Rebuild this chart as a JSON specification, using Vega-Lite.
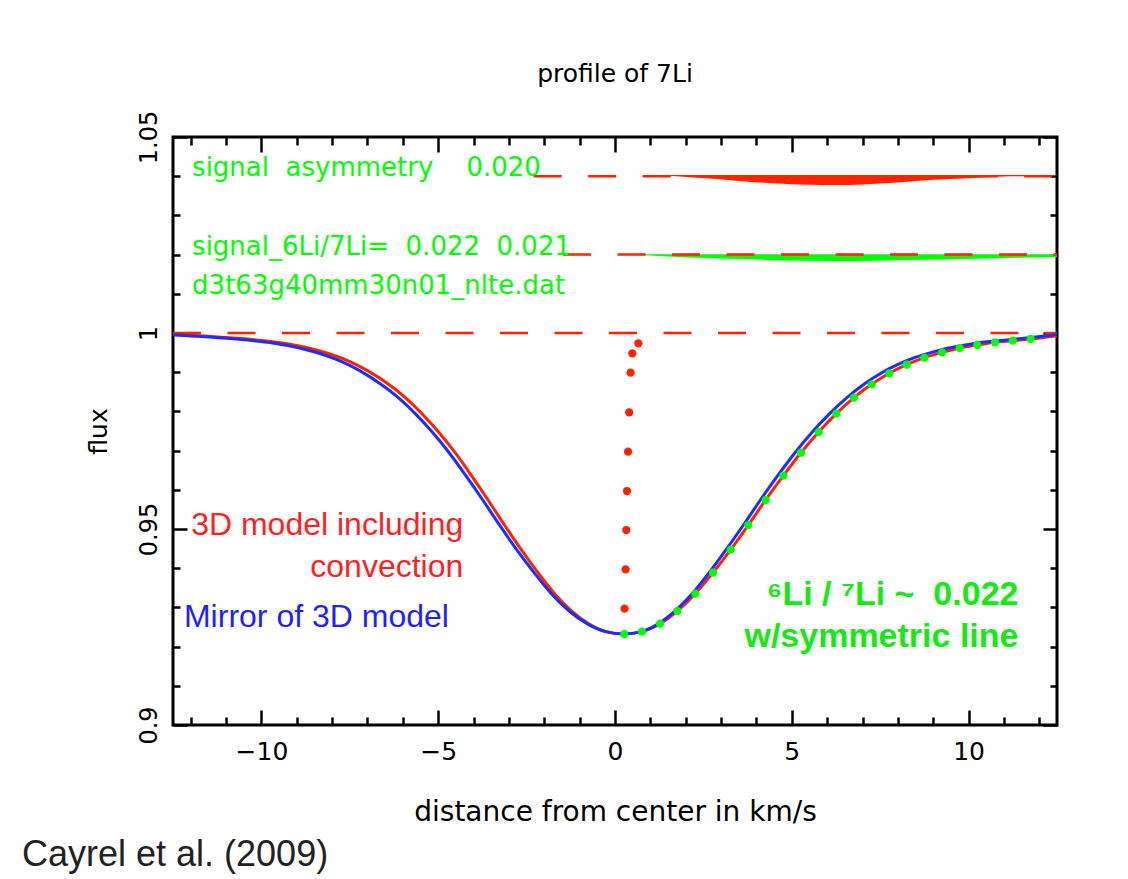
{
  "$schema": "https://vega.github.io/schema/vega-lite/v6.json",
  "width": 884,
  "height": 588,
  "autosize": {"type": "none"},
  "padding": {"left": 173, "top": 137, "right": 71, "bottom": 154},
  "background": "white",
  "config": {
    "view": {"stroke": "black", "strokeWidth": 3},
    "axis": {"grid": false, "domain": false, "tickColor": "black", "tickWidth": 2.5, "labelColor": "black", "titleColor": "black"}
  },
  "title": {"text": "profile of 7Li", "font": "DejaVu Sans", "fontSize": 25, "fontWeight": "normal", "color": "black", "anchor": "middle", "baseline": "alphabetic", "offset": 3},
  "resolve": {"axis": {"x": "independent", "y": "independent"}},
  "datasets": {
    "asymRed": [
      {"x": 1.3, "hi": 1.0403, "lo": 1.0403},
      {"x": 2.0, "hi": 1.0403, "lo": 1.0398},
      {"x": 2.6, "hi": 1.0403, "lo": 1.03946},
      {"x": 3.5, "hi": 1.0403, "lo": 1.0388},
      {"x": 4.5, "hi": 1.0403, "lo": 1.0382},
      {"x": 5.5, "hi": 1.0403, "lo": 1.0378},
      {"x": 6.2, "hi": 1.0403, "lo": 1.03775},
      {"x": 7.0, "hi": 1.0403, "lo": 1.0379},
      {"x": 8.0, "hi": 1.0403, "lo": 1.0384},
      {"x": 9.0, "hi": 1.0403, "lo": 1.0391},
      {"x": 10.0, "hi": 1.0403, "lo": 1.0395},
      {"x": 11.0, "hi": 1.0403, "lo": 1.0399},
      {"x": 12.0, "hi": 1.0403, "lo": 1.04005},
      {"x": 12.5, "hi": 1.0403, "lo": 1.0402}
    ],
    "asymGreen": [
      {"x": 0.0, "hi": 1.0201, "lo": 1.0201},
      {"x": 1.0, "hi": 1.0201, "lo": 1.0198},
      {"x": 1.65, "hi": 1.0201, "lo": 1.01946},
      {"x": 3.54, "hi": 1.0201, "lo": 1.01888},
      {"x": 5.42, "hi": 1.0201, "lo": 1.01844},
      {"x": 6.84, "hi": 1.0201, "lo": 1.01837},
      {"x": 8.25, "hi": 1.0201, "lo": 1.01862},
      {"x": 10.13, "hi": 1.0201, "lo": 1.01895},
      {"x": 12.02, "hi": 1.0201, "lo": 1.01931},
      {"x": 12.5, "hi": 1.0201, "lo": 1.0194}
    ],
    "dashes": [
      {"x0": -12.5, "x1": 12.5, "level": 1.0},
      {"x0": -2.3, "x1": 12.5, "level": 1.04},
      {"x0": -1.47, "x1": 12.5, "level": 1.02}
    ],
    "model3d": [
      {"x": -12.5, "flux": 0.99962}, {"x": -12.0, "flux": 0.9994}, {"x": -11.5, "flux": 0.99915},
      {"x": -11.0, "flux": 0.99885}, {"x": -10.5, "flux": 0.99852}, {"x": -10.0, "flux": 0.9981},
      {"x": -9.5, "flux": 0.99755}, {"x": -9.0, "flux": 0.9968}, {"x": -8.5, "flux": 0.9958},
      {"x": -8.0, "flux": 0.99445}, {"x": -7.5, "flux": 0.9927}, {"x": -7.0, "flux": 0.9904},
      {"x": -6.403, "flux": 0.98691}, {"x": -5.929, "flux": 0.98351}, {"x": -5.459, "flux": 0.97942},
      {"x": -4.99, "flux": 0.97474}, {"x": -4.52, "flux": 0.96946}, {"x": -4.058, "flux": 0.9636},
      {"x": -3.59, "flux": 0.9574}, {"x": -3.126, "flux": 0.95102}, {"x": -2.652, "flux": 0.94473},
      {"x": -2.178, "flux": 0.93886}, {"x": -1.71, "flux": 0.9335}, {"x": -1.226, "flux": 0.92908},
      {"x": -0.743, "flux": 0.92585}, {"x": -0.244, "flux": 0.92381}, {"x": 0.26, "flux": 0.92321},
      {"x": 0.764, "flux": 0.92381}, {"x": 1.273, "flux": 0.92585}, {"x": 1.762, "flux": 0.92908},
      {"x": 2.272, "flux": 0.9335}, {"x": 2.772, "flux": 0.93886}, {"x": 3.272, "flux": 0.94473},
      {"x": 3.771, "flux": 0.95102}, {"x": 4.261, "flux": 0.9574}, {"x": 4.761, "flux": 0.9636},
      {"x": 5.26, "flux": 0.96946}, {"x": 5.76, "flux": 0.97474}, {"x": 6.259, "flux": 0.97942},
      {"x": 6.759, "flux": 0.98351}, {"x": 7.259, "flux": 0.98691}, {"x": 7.758, "flux": 0.98972},
      {"x": 8.249, "flux": 0.99191}, {"x": 8.748, "flux": 0.9937}, {"x": 9.248, "flux": 0.99507},
      {"x": 9.748, "flux": 0.99617}, {"x": 10.247, "flux": 0.99694}, {"x": 10.747, "flux": 0.99763},
      {"x": 11.247, "flux": 0.99804}, {"x": 11.756, "flux": 0.99847}, {"x": 12.5, "flux": 0.9993}
    ],
    "mirror": [
      {"x": -12.5, "flux": 0.99955}, {"x": -12.3, "flux": 0.9994}, {"x": -11.8, "flux": 0.99915},
      {"x": -11.3, "flux": 0.99885}, {"x": -10.8, "flux": 0.99852}, {"x": -10.28, "flux": 0.9981},
      {"x": -9.77, "flux": 0.99755}, {"x": -9.26, "flux": 0.9968}, {"x": -8.75, "flux": 0.9958},
      {"x": -8.24, "flux": 0.99445}, {"x": -7.73, "flux": 0.9927}, {"x": -7.22, "flux": 0.9904},
      {"x": -6.62, "flux": 0.98691}, {"x": -6.13, "flux": 0.98351}, {"x": -5.649, "flux": 0.97942},
      {"x": -5.17, "flux": 0.97474}, {"x": -4.69, "flux": 0.96946}, {"x": -4.218, "flux": 0.9636},
      {"x": -3.74, "flux": 0.9574}, {"x": -3.266, "flux": 0.95102}, {"x": -2.782, "flux": 0.94473},
      {"x": -2.288, "flux": 0.93886}, {"x": -1.8, "flux": 0.9335}, {"x": -1.296, "flux": 0.92908},
      {"x": -0.793, "flux": 0.92585}, {"x": -0.274, "flux": 0.92381}, {"x": 0.24, "flux": 0.92321},
      {"x": 0.734, "flux": 0.92381}, {"x": 1.223, "flux": 0.92585}, {"x": 1.692, "flux": 0.92908},
      {"x": 2.182, "flux": 0.9335}, {"x": 2.662, "flux": 0.93886}, {"x": 3.142, "flux": 0.94473},
      {"x": 3.631, "flux": 0.95102}, {"x": 4.111, "flux": 0.9574}, {"x": 4.601, "flux": 0.9636},
      {"x": 5.09, "flux": 0.96946}, {"x": 5.58, "flux": 0.97474}, {"x": 6.069, "flux": 0.97942},
      {"x": 6.559, "flux": 0.98351}, {"x": 7.039, "flux": 0.98691}, {"x": 7.518, "flux": 0.98972},
      {"x": 7.989, "flux": 0.99191}, {"x": 8.468, "flux": 0.9937}, {"x": 8.948, "flux": 0.99507},
      {"x": 9.428, "flux": 0.99617}, {"x": 9.907, "flux": 0.99694}, {"x": 10.387, "flux": 0.99763},
      {"x": 10.867, "flux": 0.99804}, {"x": 11.356, "flux": 0.99847}, {"x": 12.5, "flux": 0.99965}
    ],
    "symfit": [
      {"x": 0.263, "flux": 0.92321}, {"x": 0.764, "flux": 0.92381}, {"x": 1.273, "flux": 0.92585},
      {"x": 1.762, "flux": 0.92908}, {"x": 2.272, "flux": 0.9335}, {"x": 2.772, "flux": 0.93886},
      {"x": 3.272, "flux": 0.94473}, {"x": 3.771, "flux": 0.95102}, {"x": 4.261, "flux": 0.9574},
      {"x": 4.761, "flux": 0.9636}, {"x": 5.26, "flux": 0.96946}, {"x": 5.76, "flux": 0.97474},
      {"x": 6.259, "flux": 0.97942}, {"x": 6.759, "flux": 0.98351}, {"x": 7.259, "flux": 0.98691},
      {"x": 7.758, "flux": 0.98972}, {"x": 8.249, "flux": 0.99191}, {"x": 8.748, "flux": 0.9937},
      {"x": 9.248, "flux": 0.99507}, {"x": 9.748, "flux": 0.99617}, {"x": 10.247, "flux": 0.99694},
      {"x": 10.747, "flux": 0.99763}, {"x": 11.247, "flux": 0.99804}, {"x": 11.756, "flux": 0.99847}
    ],
    "bisector": [
      {"x": 0.27, "flux": 0.92967}, {"x": 0.30, "flux": 0.93972}, {"x": 0.32, "flux": 0.94974},
      {"x": 0.34, "flux": 0.95969}, {"x": 0.37, "flux": 0.96972}, {"x": 0.40, "flux": 0.97977},
      {"x": 0.44, "flux": 0.98987}, {"x": 0.49, "flux": 0.99482}, {"x": 0.66, "flux": 0.99737}
    ],
    "pgtext": [
      {"x": -11.96, "y": 1.04, "label": "signal\u00a0\u00a0asymmetry\u00a0\u00a0\u00a0\u00a00.020"},
      {"x": -11.96, "y": 1.02, "label": "signal_6Li/7Li=\u00a0\u00a00.022\u00a0\u00a00.021"},
      {"x": -11.96, "y": 1.01, "label": "d3t63g40mm30n01_nlte.dat"}
    ],
    "redtext": [
      {"x": -4.29, "y": 0.94847, "label": "3D model including"},
      {"x": -4.29, "y": 0.93783, "label": "convection"}
    ],
    "bluetext": [
      {"x": -12.19, "y": 0.92508, "label": "Mirror of 3D model"}
    ],
    "greentext": [
      {"x": 11.41, "y": 0.93061, "label": "\u2076Li / \u2077Li ~\u00a0\u00a00.022"},
      {"x": 11.41, "y": 0.91997, "label": "w/symmetric line"}
    ],
    "credit": [
      {"x": -16.77, "y": 0.86403, "label": "Cayrel et al. (2009)"}
    ]
  },
  "layer": [
    {
      "data": {"name": "asymRed"},
      "mark": {"type": "area", "color": "#ff2200", "interpolate": "monotone"},
      "encoding": {
        "x": {"field": "x", "type": "quantitative", "scale": {"domain": [-12.5, 12.5], "nice": false, "zero": false},
          "axis": {"orient": "bottom", "values": [-10, -5, 0, 5, 10], "format": "~r", "ticks": false, "tickSize": 0, "labelFont": "DejaVu Sans", "labelFontSize": 25, "labelPadding": 14, "title": "distance from center in km/s", "titleFont": "DejaVu Sans", "titleFontSize": 28, "titleFontWeight": "normal", "titlePadding": 34}},
        "y": {"field": "lo", "type": "quantitative", "scale": {"domain": [0.9, 1.05], "nice": false, "zero": false},
          "axis": {"orient": "left", "values": [0.9, 0.95, 1.0, 1.05], "format": "~r", "ticks": false, "tickSize": 0, "labelFont": "DejaVu Sans", "labelFontSize": 24, "labelAngle": 270, "labelAlign": "center", "labelBaseline": "alphabetic", "labelPadding": 17, "title": "flux", "titleFont": "DejaVu Sans", "titleFontSize": 25, "titleFontWeight": "normal", "titleBaseline": "alphabetic", "titlePadding": 31}},
        "y2": {"field": "hi"}
      }
    },
    {
      "data": {"name": "asymGreen"},
      "mark": {"type": "area", "color": "#00ff00", "interpolate": "monotone"},
      "encoding": {
        "x": {"field": "x", "type": "quantitative", "scale": {"domain": [-12.5, 12.5], "nice": false, "zero": false},
          "axis": {"orient": "bottom", "values": [-10, -5, 0, 5, 10], "tickSize": -15, "labels": false, "title": null}},
        "y": {"field": "lo", "type": "quantitative", "scale": {"domain": [0.9, 1.05], "nice": false, "zero": false},
          "axis": {"orient": "left", "values": [0.9, 0.95, 1.0, 1.05], "tickSize": -14, "labels": false, "title": null}},
        "y2": {"field": "hi"}
      }
    },
    {
      "data": {"name": "dashes"},
      "mark": {"type": "rule", "color": "#ff2200", "strokeWidth": 2.5, "strokeDash": [28, 26.5]},
      "encoding": {
        "x": {"field": "x0", "type": "quantitative", "scale": {"domain": [-12.5, 12.5], "nice": false, "zero": false},
          "axis": {"orient": "bottom", "values": [-12, -11, -9, -8, -7, -6, -4, -3, -2, -1, 1, 2, 3, 4, 6, 7, 8, 9, 11, 12], "tickSize": -8, "labels": false, "title": null}},
        "x2": {"field": "x1"},
        "y": {"field": "level", "type": "quantitative", "scale": {"domain": [0.9, 1.05], "nice": false, "zero": false},
          "axis": {"orient": "left", "values": [0.91, 0.92, 0.93, 0.94, 0.96, 0.97, 0.98, 0.99, 1.01, 1.02, 1.03, 1.04], "tickSize": -7, "labels": false, "title": null}}
      }
    },
    {
      "data": {"name": "model3d"},
      "mark": {"type": "line", "color": "#ff2200", "strokeWidth": 3, "interpolate": "monotone"},
      "encoding": {
        "x": {"field": "x", "type": "quantitative", "scale": {"domain": [-12.5, 12.5], "nice": false, "zero": false},
          "axis": {"orient": "top", "values": [-10, -5, 0, 5, 10], "tickSize": -15, "labels": false, "title": null}},
        "y": {"field": "flux", "type": "quantitative", "scale": {"domain": [0.9, 1.05], "nice": false, "zero": false},
          "axis": {"orient": "right", "values": [0.9, 0.95, 1.0, 1.05], "tickSize": -14, "labels": false, "title": null}}
      }
    },
    {
      "data": {"name": "mirror"},
      "mark": {"type": "line", "color": "#1a2eff", "strokeWidth": 3, "interpolate": "monotone", "clip": true},
      "encoding": {
        "x": {"field": "x", "type": "quantitative", "scale": {"domain": [-12.5, 12.5], "nice": false, "zero": false},
          "axis": {"orient": "top", "values": [-12, -11, -9, -8, -7, -6, -4, -3, -2, -1, 1, 2, 3, 4, 6, 7, 8, 9, 11, 12], "tickSize": -8, "labels": false, "title": null}},
        "y": {"field": "flux", "type": "quantitative", "scale": {"domain": [0.9, 1.05], "nice": false, "zero": false},
          "axis": {"orient": "right", "values": [0.91, 0.92, 0.93, 0.94, 0.96, 0.97, 0.98, 0.99, 1.01, 1.02, 1.03, 1.04], "tickSize": -7, "labels": false, "title": null}}
      }
    },
    {
      "data": {"name": "symfit"},
      "mark": {"type": "point", "shape": "circle", "filled": true, "color": "#00ff00", "opacity": 1, "size": 68},
      "encoding": {
        "x": {"field": "x", "type": "quantitative", "scale": {"domain": [-12.5, 12.5], "nice": false, "zero": false}, "axis": null},
        "y": {"field": "flux", "type": "quantitative", "scale": {"domain": [0.9, 1.05], "nice": false, "zero": false}, "axis": null}
      }
    },
    {
      "data": {"name": "bisector"},
      "mark": {"type": "point", "shape": "circle", "filled": true, "color": "#ff2200", "opacity": 1, "size": 68},
      "encoding": {
        "x": {"field": "x", "type": "quantitative", "scale": {"domain": [-12.5, 12.5], "nice": false, "zero": false}, "axis": null},
        "y": {"field": "flux", "type": "quantitative", "scale": {"domain": [0.9, 1.05], "nice": false, "zero": false}, "axis": null}
      }
    },
    {
      "data": {"name": "pgtext"},
      "mark": {"type": "text", "align": "left", "baseline": "alphabetic", "font": "DejaVu Sans", "fontSize": 26, "color": "#00ff00"},
      "encoding": {
        "x": {"field": "x", "type": "quantitative", "scale": {"domain": [-12.5, 12.5], "nice": false, "zero": false}, "axis": null},
        "y": {"field": "y", "type": "quantitative", "scale": {"domain": [0.9, 1.05], "nice": false, "zero": false}, "axis": null},
        "text": {"field": "label"}
      }
    },
    {
      "data": {"name": "redtext"},
      "mark": {"type": "text", "align": "right", "baseline": "alphabetic", "font": "Liberation Sans", "fontSize": 32, "color": "#ff1f1f"},
      "encoding": {
        "x": {"field": "x", "type": "quantitative", "scale": {"domain": [-12.5, 12.5], "nice": false, "zero": false}, "axis": null},
        "y": {"field": "y", "type": "quantitative", "scale": {"domain": [0.9, 1.05], "nice": false, "zero": false}, "axis": null},
        "text": {"field": "label"}
      }
    },
    {
      "data": {"name": "bluetext"},
      "mark": {"type": "text", "align": "left", "baseline": "alphabetic", "font": "Liberation Sans", "fontSize": 32, "color": "#1f1fff"},
      "encoding": {
        "x": {"field": "x", "type": "quantitative", "scale": {"domain": [-12.5, 12.5], "nice": false, "zero": false}, "axis": null},
        "y": {"field": "y", "type": "quantitative", "scale": {"domain": [0.9, 1.05], "nice": false, "zero": false}, "axis": null},
        "text": {"field": "label"}
      }
    },
    {
      "data": {"name": "greentext"},
      "mark": {"type": "text", "align": "right", "baseline": "alphabetic", "font": "Liberation Sans", "fontSize": 34, "fontWeight": "bold", "color": "#14ea14"},
      "encoding": {
        "x": {"field": "x", "type": "quantitative", "scale": {"domain": [-12.5, 12.5], "nice": false, "zero": false}, "axis": null},
        "y": {"field": "y", "type": "quantitative", "scale": {"domain": [0.9, 1.05], "nice": false, "zero": false}, "axis": null},
        "text": {"field": "label"}
      }
    },
    {
      "data": {"name": "credit"},
      "mark": {"type": "text", "align": "left", "baseline": "alphabetic", "font": "Liberation Sans", "fontSize": 36, "color": "#222222"},
      "encoding": {
        "x": {"field": "x", "type": "quantitative", "scale": {"domain": [-12.5, 12.5], "nice": false, "zero": false}, "axis": null},
        "y": {"field": "y", "type": "quantitative", "scale": {"domain": [0.9, 1.05], "nice": false, "zero": false}, "axis": null},
        "text": {"field": "label"}
      }
    }
  ]
}
